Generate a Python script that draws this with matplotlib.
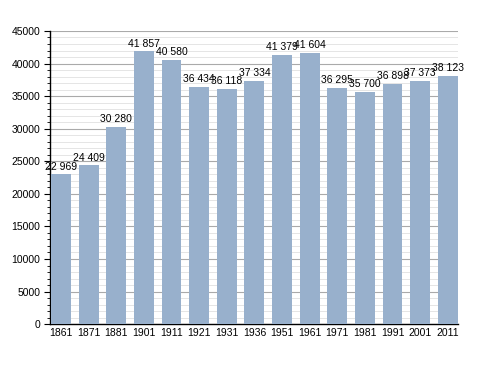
import matplotlib
matplotlib.use("Agg")
import matplotlib.pyplot as plt
from matplotlib.ticker import MultipleLocator

years = ["1861", "1871", "1881", "1901", "1911", "1921", "1931", "1936",
         "1951", "1961", "1971", "1981", "1991", "2001", "2011"]
population = [22969, 24409, 30280, 41857, 40580, 36434, 36118, 37334,
              41379, 41604, 36295, 35700, 36898, 37373, 38123]
labels = ["22 969", "24 409", "30 280", "41 857", "40 580", "36 434", "36 118", "37 334",
          "41 379", "41 604", "36 295", "35 700", "36 898", "37 373", "38 123"]

fig = plt.figure(figsize=(4.88, 3.73), dpi=100)
ax = fig.add_axes([0.1025, 0.131, 0.836, 0.786])
x = list(range(len(years)))
ax.bar(x, population, width=0.72, color="#98b0cc", zorder=3)
for xi, v, lab in zip(x, population, labels):
    ax.text(xi, v + 400, lab, ha="center", va="bottom", fontsize=7.5,
            family="Liberation Sans", zorder=4)

ax.set_xlim(-0.4, 14.37)
ax.set_ylim(0, 45000)
ax.yaxis.set_major_locator(MultipleLocator(5000))
ax.yaxis.set_minor_locator(MultipleLocator(1000))
ax.grid(axis="y", which="major", color="#aaaaaa", linewidth=0.8, zorder=0)
ax.grid(axis="y", which="minor", color="#e0e0e0", linewidth=0.6, zorder=0)
ax.set_xticks(x)
ax.set_xticklabels(years)
for lab in ax.get_xticklabels() + ax.get_yticklabels():
    lab.set_family("Liberation Sans")
    lab.set_fontsize(7.5)
ax.tick_params(axis="x", length=0, pad=3)
ax.tick_params(axis="y", which="major", length=4, width=0.8, pad=3)
ax.tick_params(axis="y", which="minor", length=2, width=0.6)
for s in ["top", "right"]:
    ax.spines[s].set_visible(False)
ax.spines["left"].set_linewidth(1.0)
ax.spines["bottom"].set_linewidth(1.0)
fig.savefig("out.png", dpi=100)
